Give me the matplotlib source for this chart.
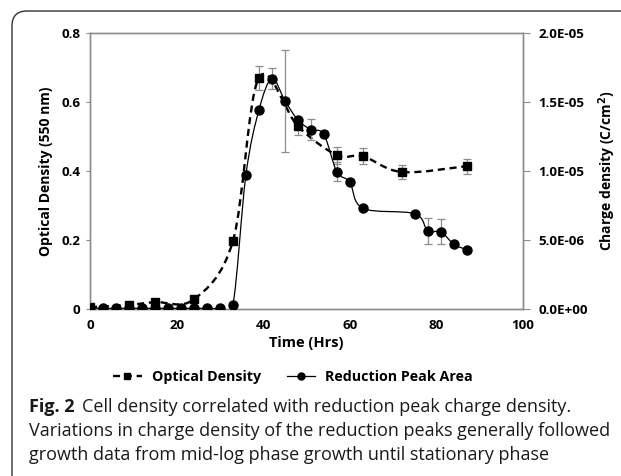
import numpy as np
import matplotlib
matplotlib.use("Agg")
from matplotlib import pyplot as plt
from matplotlib.path import Path
from matplotlib.patches import PathPatch, FancyBboxPatch
from matplotlib.lines import Line2D

# optical density (left axis)
od_t = [0, 9, 15, 24, 33, 39, 48, 57, 63, 72, 87]
od = [0.005, 0.012, 0.02, 0.028, 0.197, 0.67, 0.53, 0.446, 0.443, 0.397, 0.414]
od_err = [0, 0, 0, 0, 0, 0.035, 0.025, 0.025, 0.024, 0.02, 0.022]

# reduction peak charge density (right axis)
rp_t = [0, 3, 6, 9, 12, 15, 18, 21, 24, 27, 30, 33, 36, 39, 42, 45, 48, 51, 54,
        57, 60, 63, 75, 78, 81, 84, 87]
rp = [8e-8, 5e-8, 5e-8, 5e-8, 5e-8, 5e-8, 5e-8, 5e-8, 5e-8, 5e-8, 5e-8, 2.9e-7,
      9.7e-6, 1.44e-5, 1.67e-5, 1.51e-5, 1.37e-5, 1.30e-5, 1.265e-5,
      9.95e-6, 9.2e-6, 7.3e-6, 6.9e-6, 5.65e-6, 5.6e-6, 4.7e-6, 4.3e-6]
rp_err = [0] * 14 + [7.5e-7, 3.7e-6, 0, 7.5e-7, 0, 6.8e-7, 0, 0, 0, 9.5e-7, 9e-7, 0, 0]

left_ticks = [0, 0.2, 0.4, 0.6, 0.8]
left_labels = ["0", "0.2", "0.4", "0.6", "0.8"]
right_ticks = [0, 5e-6, 1e-5, 1.5e-5, 2e-5]
right_labels = ["0.0E+00", "5.0E-06", "1.0E-05", "1.5E-05", "2.0E-05"]
x_ticks = [0, 20, 40, 60, 80, 100]

FONT = "Open Sans"
GRAY = "#8c8c8c"


def smooth_path(x, y):
    # excel style smoothed line (catmull-rom -> bezier)
    x = np.asarray(x, float)
    y = np.asarray(y, float)
    verts = [(x[0], y[0])]
    codes = [Path.MOVETO]
    n = len(x)
    for i in range(n - 1):
        i0 = max(i - 1, 0)
        i3 = min(i + 2, n - 1)
        c1 = (x[i] + (x[i + 1] - x[i0]) / 6, y[i] + (y[i + 1] - y[i0]) / 6)
        c2 = (x[i + 1] - (x[i3] - x[i]) / 6, y[i + 1] - (y[i3] - y[i]) / 6)
        verts += [c1, c2, (x[i + 1], y[i + 1])]
        codes += [Path.CURVE4] * 3
    return Path(verts, codes)


fig = plt.figure(figsize=(6.21, 4.76), dpi=100)
ax = fig.add_axes([90 / 621, 1 - 309 / 476, 433 / 621, 276 / 476])
ax2 = ax.twinx()

ax.set_xlim(0, 100)
ax.set_ylim(0, 0.8)
ax2.set_ylim(0, 2e-5)

# error bars
ax.errorbar(od_t, od, yerr=od_err, fmt="none", ecolor=GRAY, elinewidth=0.9,
            capsize=3, capthick=0.9, zorder=2)
ax2.errorbar(rp_t, rp, yerr=rp_err, fmt="none", ecolor=GRAY, elinewidth=0.9,
             capsize=3, capthick=0.9, zorder=2)

# lines
p1 = PathPatch(smooth_path(od_t, od), fill=False, edgecolor="black", lw=1.7,
               linestyle=(0, (3, 2)), zorder=3)
ax.add_patch(p1)
p2 = PathPatch(smooth_path(rp_t, rp), fill=False, edgecolor="black", lw=0.9, zorder=3)
ax2.add_patch(p2)

ax.plot(od_t, od, ls="none", marker="s", ms=6, color="black", zorder=4)
ax2.plot(rp_t, rp, ls="none", marker="o", ms=6.5, color="black", zorder=4)

for a in (ax, ax2):
    for s in a.spines.values():
        s.set_color(GRAY)
        s.set_linewidth(1.0)

ax.set_xticks(x_ticks)
ax.set_xticklabels([str(v) for v in x_ticks])
ax.set_yticks(left_ticks)
ax.set_yticklabels(left_labels)
ax2.set_yticks(right_ticks)
ax2.set_yticklabels(right_labels)
ax.tick_params(axis="x", length=0, pad=7)
ax.tick_params(axis="y", length=3, color=GRAY, pad=4)
ax2.tick_params(axis="y", length=5, color=GRAY, pad=6)
for lab in ax.get_xticklabels() + ax.get_yticklabels() + ax2.get_yticklabels():
    lab.set_fontfamily(FONT)
    lab.set_fontweight("bold")
    lab.set_fontsize(9.6)

ax.set_xlabel("Time (Hrs)", family=FONT, weight="bold", size=10.5, labelpad=3)
ax.set_ylabel("Optical Density (550 nm)", family=FONT, weight="bold", size=10, labelpad=6)
ax2.set_ylabel("Charge density (C/cm$^\\mathbf{2}$)", family=FONT, weight="bold", size=10,
               labelpad=6)

# legend
h1 = Line2D([], [], color="black", lw=1.7, linestyle=(0, (3, 2)), marker="s", ms=5)
h2 = Line2D([], [], color="black", lw=0.9, marker="o", ms=5)
fig.legend([h1, h2], ["Optical Density", "Reduction Peak Area"], loc="center",
           bbox_to_anchor=(293 / 621, 1 - 377 / 476), ncol=2, frameon=False,
           prop={"family": FONT, "weight": "bold", "size": 10.3}, handlelength=2.0,
           handletextpad=0.7, columnspacing=1.8)

# caption
CAP = 13
t1 = fig.text(29 / 621, 1 - 412 / 476, "Fig. 2", family=FONT, weight="bold", size=CAP,
              va="baseline", color="#1a1a1a")
fig.canvas.draw()
bb = t1.get_window_extent()
fig.text((bb.x1 + 7) / 621, 1 - 412 / 476,
         "Cell density correlated with reduction peak charge density.",
         family=FONT, size=CAP, va="baseline", color="#1a1a1a")
fig.text(29 / 621, 1 - 436 / 476,
         "Variations in charge density of the reduction peaks generally followed",
         family=FONT, size=CAP, va="baseline", color="#1a1a1a")
fig.text(29 / 621, 1 - 460 / 476,
         "growth data from mid-log phase growth until stationary phase",
         family=FONT, size=CAP, va="baseline", color="#1a1a1a")

# outer frame
frame = FancyBboxPatch((0.12, -0.4), 6.6, 5.05, boxstyle="round,pad=0,rounding_size=0.15",
                       transform=fig.dpi_scale_trans, fill=False, edgecolor="#333333",
                       lw=1.0, clip_on=False)
fig.patches.append(frame)

fig.savefig("out.png", dpi=100)
